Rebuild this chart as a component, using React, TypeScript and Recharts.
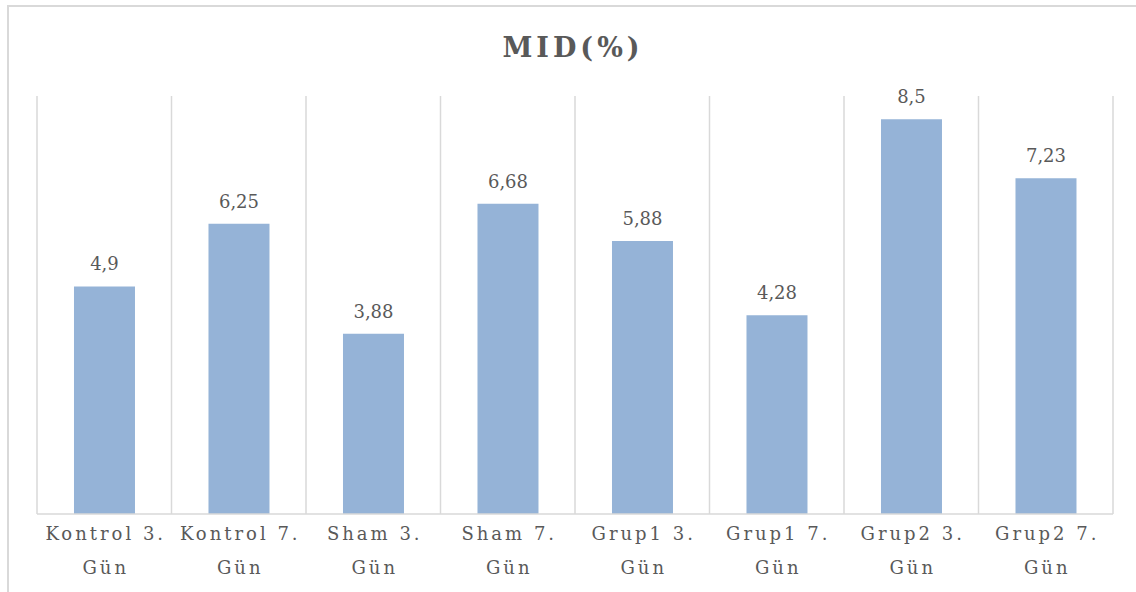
import React from 'react'
import { BarChart, Bar, XAxis, YAxis, CartesianGrid, LabelList } from 'recharts'

// MID(%) values per group / day
const categories = [
  'Kontrol 3. Gün',
  'Kontrol 7. Gün',
  'Sham 3. Gün',
  'Sham 7. Gün',
  'Grup1 3. Gün',
  'Grup1 7. Gün',
  'Grup2 3. Gün',
  'Grup2 7. Gün'
]
const midValues = [4.9, 6.25, 3.88, 6.68, 5.88, 4.28, 8.5, 7.23]
const yDomain = [0, 9]

const FONT = '"DejaVu Serif", "Liberation Serif", serif'
const TEXT = '#595959'
const GRID = '#d9d9d9'

const data = categories.map((name, i) => ({ name, value: midValues[i] }))

// split "Kontrol 3. Gün" -> ["Kontrol 3.", "Gün"]
const splitLabel = (s: string) => {
  const idx = s.lastIndexOf(' ')
  return [s.slice(0, idx), s.slice(idx + 1)]
}

const CategoryTick = ({ x, y, payload }: any) => {
  const [l1, l2] = splitLabel(payload.value)
  return (
    <text
      x={x}
      y={y}
      textAnchor="middle"
      fill={TEXT}
      style={{ fontFamily: FONT, fontSize: 18, letterSpacing: 3 }}
    >
      <tspan x={x + 1.5} dy={18}>{l1}</tspan>
      <tspan x={x + 1.5} dy={34}>{l2}</tspan>
    </text>
  )
}

export default function App() {
  const n = categories.length
  return (
    <div style={{ position: 'fixed', left: 0, top: 0, width: 1136, height: 592, overflow: 'hidden', background: '#fff' }}>
      <div
        style={{
          position: 'absolute',
          left: 7,
          top: 5,
          width: 1160,
          height: 620,
          border: `2px solid ${GRID}`,
          boxSizing: 'border-box'
        }}
      />
      <div
        style={{
          position: 'absolute',
          left: 0,
          top: 32,
          width: 1146,
          textAlign: 'center',
          fontFamily: FONT,
          fontWeight: 'bold',
          fontSize: 27,
          letterSpacing: 4,
          color: TEXT
        }}
      >
        MID(%)
      </div>
      <div style={{ position: 'absolute', left: 0, top: 0 }}>
        <BarChart
          width={1136}
          height={592}
          data={data}
          margin={{ top: 96, right: 23, bottom: 0, left: 37 }}
          barCategoryGap="27.5%"
        >
          <CartesianGrid
            horizontal={false}
            stroke={GRID}
            strokeWidth={1.5}
            verticalCoordinatesGenerator={({ offset }: any) =>
              Array.from({ length: n + 1 }, (_, i) => offset.left + (i * offset.width) / n)
            }
          />
          <XAxis
            dataKey="name"
            interval={0}
            height={78}
            axisLine={{ stroke: GRID, strokeWidth: 1.5 }}
            tickLine={false}
            tick={<CategoryTick />}
          />
          <YAxis hide domain={yDomain} />
          <Bar dataKey="value" fill="#95b3d7" isAnimationActive={false}>
            <LabelList
              dataKey="value"
              position="top"
              offset={16}
              formatter={(v: any) => String(v).replace('.', ',')}
              style={{ fontFamily: FONT, fontSize: 18, fill: TEXT }}
            />
          </Bar>
        </BarChart>
      </div>
    </div>
  )
}
